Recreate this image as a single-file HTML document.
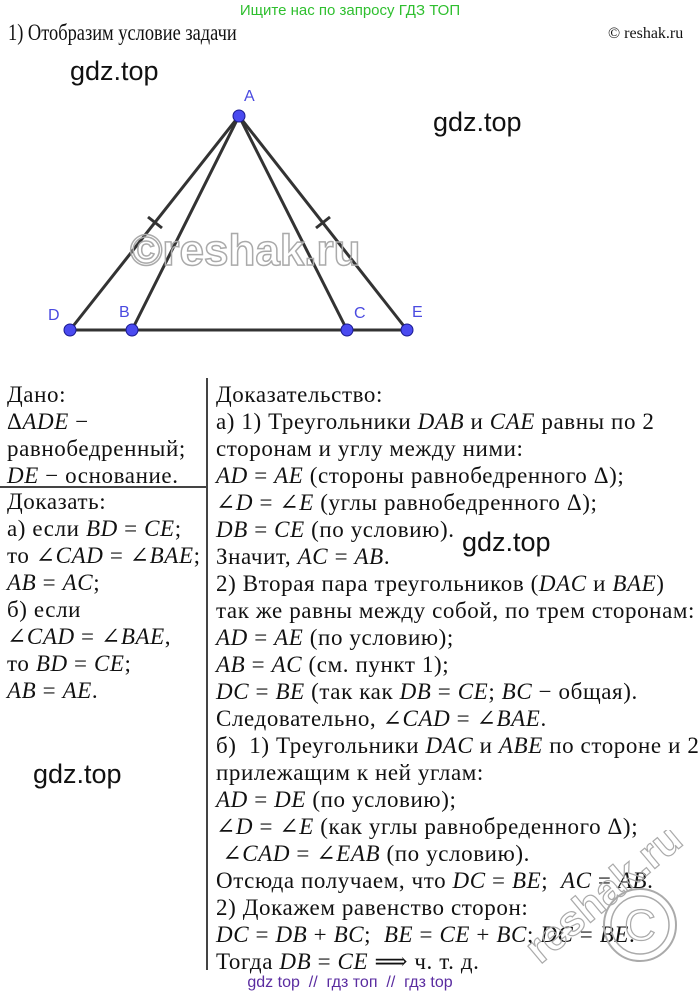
<!DOCTYPE html>
<html><head><meta charset="utf-8"><style>
body{margin:0;width:700px;height:999px;background:#fff;position:relative;overflow:hidden;font-family:"Liberation Serif","DejaVu Serif",serif;color:#111}
.a{position:absolute;white-space:nowrap}
.t{font-size:23px;line-height:27px;letter-spacing:0.6px}
i{font-style:italic}
.g{font-family:"Liberation Sans",sans-serif;font-size:27px;color:#111}
</style></head><body>
<div class="a" style="left:0;width:700px;top:2px;text-align:center;font-family:'Liberation Sans',sans-serif;font-size:15px;color:#2fbf2f">Ищите нас по запросу ГДЗ ТОП</div>
<div class="a" style="left:8px;top:20px;font-size:23px;transform:scaleX(0.8);transform-origin:0 0">1) Отобразим условие задачи</div>
<div class="a" style="left:608px;top:25px;font-size:16px">© reshak.ru</div>
<div class="a g" style="left:70px;top:56px">gdz.top</div>
<div class="a g" style="left:433px;top:107px">gdz.top</div>
<div class="a g" style="left:462px;top:527px">gdz.top</div>
<div class="a g" style="left:33px;top:759px">gdz.top</div>
<svg class="a" style="left:0;top:0" width="700" height="360">
<g stroke="#333" stroke-width="3" fill="none">
<line x1="70" y1="330" x2="407" y2="330"/>
<line x1="239" y1="116" x2="70" y2="330"/>
<line x1="239" y1="116" x2="132" y2="330"/>
<line x1="239" y1="116" x2="347" y2="330"/>
<line x1="239" y1="116" x2="407" y2="330"/>
<line x1="148" y1="217" x2="162" y2="228"/>
<line x1="330" y1="217" x2="316" y2="228"/>
</g>
<text x="130" y="265" font-family="Liberation Sans" font-weight="bold" font-size="44" fill="none" stroke="#aaa" stroke-width="1.5">©reshak.ru</text>
<g fill="#4a4af0" stroke="#1a1a90" stroke-width="1">
<circle cx="239" cy="116" r="6"/><circle cx="70" cy="330" r="6"/><circle cx="132" cy="330" r="6"/><circle cx="347" cy="330" r="6"/><circle cx="407" cy="330" r="6"/>
</g>
<g fill="#4a4ae0" font-family="Liberation Sans" font-size="16">
<text x="244" y="101">A</text><text x="48" y="320">D</text><text x="119" y="317">B</text><text x="354" y="318">C</text><text x="412" y="317">E</text>
</g>
</svg>
<div class="a" style="left:206px;top:378px;width:2px;height:592px;background:#444"></div>
<div class="a" style="left:0;top:486px;width:207px;height:2px;background:#444"></div>
<div class="a t" style="left:7px;top:381px">Дано:<br>Δ<i>ADE</i> −<br>равнобедренный;<br><i>DE</i> − основание.</div>
<div class="a t" style="left:7px;top:488px">Доказать:<br>а) если <i>BD</i> = <i>CE</i>;<br>то ∠<i>CAD</i> = ∠<i>BAE</i>;<br><i>AB</i> = <i>AC</i>;<br>б) если<br>∠<i>CAD</i> = ∠<i>BAE</i>,<br>то <i>BD</i> = <i>CE</i>;<br><i>AB</i> = <i>AE</i>.</div>
<div class="a t" style="left:216px;top:381px">Доказательство:<br>а) 1) Треугольники <i>DAB</i> и <i>CAE</i> равны по 2<br>сторонам и углу между ними:<br><i>AD</i> = <i>AE</i> (стороны равнобедренного Δ);<br>∠<i>D</i> = ∠<i>E</i> (углы равнобедренного Δ);<br><i>DB</i> = <i>CE</i> (по условию).<br>Значит, <i>AC</i> = <i>AB</i>.<br>2) Вторая пара треугольников (<i>DAC</i> и <i>BAE</i>)<br>так же равны между собой, по трем сторонам:<br><i>AD</i> = <i>AE</i> (по условию);<br><i>AB</i> = <i>AC</i> (см. пункт 1);<br><i>DC</i> = <i>BE</i> (так как <i>DB</i> = <i>CE</i>; <i>BC</i> − общая).<br>Следовательно, ∠<i>CAD</i> = ∠<i>BAE</i>.<br>б) &nbsp;1) Треугольники <i>DAC</i> и <i>ABE</i> по стороне и 2<br>прилежащим к ней углам:<br><i>AD</i> = <i>DE</i> (по условию);<br>∠<i>D</i> = ∠<i>E</i> (как углы равнобреденного Δ);<br>&nbsp;∠<i>CAD</i> = ∠<i>EAB</i> (по условию).<br>Отсюда получаем, что <i>DC</i> = <i>BE</i>; &nbsp;<i>AC</i> = <i>AB</i>.<br>2) Докажем равенство сторон:<br><i>DC</i> = <i>DB</i> + <i>BC</i>; &nbsp;<i>BE</i> = <i>CE</i> + <i>BC</i>; <i>DC</i> = <i>BE</i>.<br>Тогда <i>DB</i> = <i>CE</i> ⟹ ч. т. д.</div>
<svg class="a" style="left:520px;top:830px" width="180" height="160">
<text x="20" y="135" transform="rotate(-40 20 135)" font-family="Liberation Sans" font-weight="bold" font-size="42" fill="none" stroke="#aaa" stroke-width="1.2">reshak.ru</text>
<circle cx="120" cy="95" r="36" fill="none" stroke="#aaa" stroke-width="2"/>
<circle cx="120" cy="95" r="29" fill="none" stroke="#aaa" stroke-width="1.5"/>
<text x="120" y="110" text-anchor="middle" font-family="Liberation Sans" font-size="44" fill="none" stroke="#aaa" stroke-width="1.2">C</text>
</svg>
<div class="a" style="left:0;width:700px;top:974px;text-align:center;font-family:'Liberation Sans',sans-serif;font-size:16px;color:#5a2ca0">gdz top &nbsp;// &nbsp;гдз топ &nbsp;// &nbsp;гдз top</div>
</body></html>
